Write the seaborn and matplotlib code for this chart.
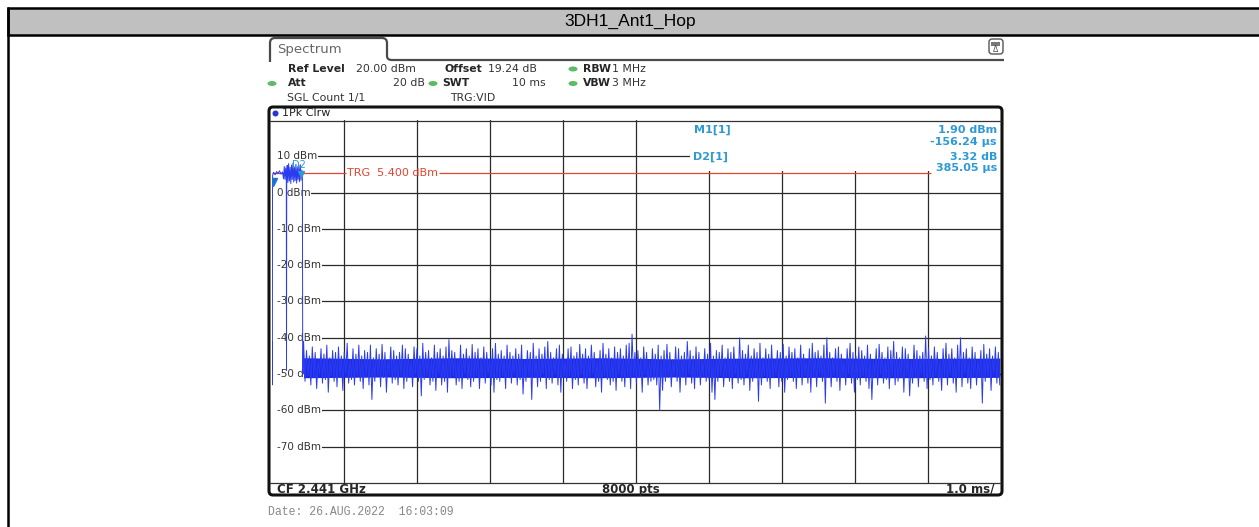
import numpy as np
import seaborn as sns
import matplotlib.pyplot as plt
from matplotlib.patches import Rectangle, FancyBboxPatch, Ellipse, PathPatch
from matplotlib.path import Path

W, H = 1259, 527

title = "3DH1_Ant1_Hop"
ref_levels = [10, 0, -10, -20, -30, -40, -50, -60, -70]
level_labels = ["10 dBm", "0 dBm", "-10 dBm", "-20 dBm", "-30 dBm",
                "-40 dBm", "-50 dBm", "-60 dBm", "-70 dBm"]
trg_level = 5.4
m1_time, m1_level = 0.014, 1.90
d2_delta_time, d2_delta_level = 0.385, 3.32

# start of sweep: hop burst (ms, dBm)
burst_t = [0.000, 0.004, 0.008, 0.012, 0.014, 0.016, 0.03, 0.05, 0.07, 0.09,
           0.11, 0.13, 0.15, 0.165, 0.175, 0.185, 0.195, 0.203, 0.206, 0.209,
           0.215, 0.225, 0.235, 0.245, 0.255, 0.265, 0.275, 0.285, 0.295, 0.305,
           0.315, 0.325, 0.335, 0.345, 0.355, 0.365, 0.375, 0.385, 0.395, 0.405,
           0.415, 0.424, 0.428, 0.432]
burst_db = [-46, -41, -53, -44, 3.5, 4.8, 5.6, 4.9, 5.8, 5.2,
            6.0, 5.1, 5.7, 3.8, 7.2, 3.6, 6.8, 4.0, -49, 4.5,
            7.5, 2.8, 8.0, 3.2, 7.0, 2.5, 7.6, 3.6, 8.2, 2.9,
            7.1, 3.3, 7.8, 2.6, 6.9, 3.5, 7.4, 3.0, 7.7, 3.4,
            6.2, 4.5, -45, -50]

# noise floor after the burst: peaks and troughs read along the sweep
noise_hi = [-41, -43.5, -45, -42.5, -44, -46, -43, -44.5, -42, -45.5, -43.5, -44,
            -42.5, -45, -44, -41.5, -46, -43, -44.5, -42, -45, -43.5, -44, -42,
            -45.5, -43, -44.5, -41.8, -44, -46, -42.5, -43.5, -45, -44, -42, -43,
            -44.5, -46, -42.5, -43, -45, -41.5, -44, -43.5, -45.5, -42, -44, -43,
            -45, -42.5, -40.5, -43.5, -44, -46, -42, -44.5, -43, -45, -41.8, -44,
            -43, -45.5, -42.5, -44, -46, -43, -41.5, -44.5, -43.5, -45, -42, -44,
            -45, -43, -44.5, -42, -46, -43.5, -44, -41.5, -45, -43, -44.5, -42.5,
            -41, -44, -45.5, -43, -42, -44.5, -46, -43, -42.5, -45, -44, -41.8,
            -44.5, -43, -45, -42, -44, -46, -43.5, -41.5, -44.5, -43, -45.5, -42.5,
            -44, -43, -45, -42, -41.5, -39, -44, -43.5, -45.5, -42.5, -44, -46,
            -43, -44.5, -42, -45, -43.5, -41.8, -44, -46, -42.5, -43, -45, -44,
            -41, -43.5, -45, -42.5, -44, -46, -43, -44.5, -41.5, -45, -43.5, -44,
            -42, -45.5, -43, -44, -42.5, -46, -40, -43.5, -44.5, -42, -45, -43,
            -44, -41.5, -45.5, -43, -44.5, -42, -46, -43.5, -44, -41.8, -45, -42.5,
            -44, -43, -45.5, -42, -44.5, -46, -43, -41.5, -44, -43.5, -45, -42,
            -40, -44, -45.5, -43, -42.5, -44.5, -46, -43, -41.5, -44, -45, -42.5,
            -43.5, -45, -42, -44.5, -46, -43, -41.8, -44, -45.5, -42.5, -43.5, -41,
            -44, -45.5, -42.5, -43, -44.5, -46, -42, -43.5, -45, -44, -39.5, -43,
            -45, -42.5, -44, -46, -43, -41.5, -44.5, -43, -45.5, -42, -40, -44,
            -43, -45.5, -42.5, -44, -46, -43.5, -41.8, -44.5, -43, -45, -42.5, -44]
noise_lo = [-52, -50.5, -53, -51, -54, -50, -52.5, -51.5, -55, -50.5, -52, -53.5,
            -51, -54.5, -50, -52.5, -51.5, -53, -50.5, -52, -54, -51, -53, -57,
            -52, -50.5, -53.5, -51, -55, -50, -52.5, -51.5, -53, -50.5, -54, -52,
            -51, -53.5, -50, -52, -56, -51.5, -50.5, -53, -52, -54.5, -50, -53,
            -52, -55, -51, -50.5, -53, -52, -54, -50, -51.5, -53.5, -52, -50.5,
            -54, -51, -52.5, -50, -53, -55, -51.5, -52, -50.5, -54, -51, -52.5,
            -50, -53, -51.5, -55.5, -52, -50.5, -57, -51, -53.5, -52, -50, -54,
            -51.5, -52.5, -50, -53, -55, -51, -52, -50.5, -54, -51.5, -53, -50,
            -52.5, -54, -51, -50, -53.5, -52, -55, -50.5, -51.5, -53, -52, -54.5,
            -50, -52, -53.5, -51, -54, -50.5, -52.5, -51, -55, -50, -53, -52,
            -51.5, -53, -60, -54.5, -52, -51, -53.5, -50.5, -52, -55, -51, -53,
            -50, -52.5, -54, -51, -53, -50.5, -52, -51.5, -55, -57, -52, -50.5,
            -53.5, -51, -52, -54, -50, -52.5, -51.5, -53, -50, -54.5, -52, -51,
            -57.5, -53, -50.5, -52, -54, -51, -50, -53.5, -52, -55, -51.5, -50.5,
            -52, -54, -51, -53, -50.5, -52.5, -55, -51, -53.5, -50, -52, -58,
            -51, -53.5, -50.5, -52, -54.5, -51, -53, -50, -52.5, -55, -51.5, -53,
            -50.5, -52, -54, -57, -51, -53, -50, -52.5, -51.5, -54, -50.5, -53,
            -52, -51, -55, -50.5, -56, -52.5, -51, -53.5, -50, -52, -54, -51.5,
            -53, -50.5, -52, -54.5, -51, -53, -50, -52.5, -55, -51, -53.5, -50,
            -52.5, -54, -51, -53, -50.5, -58, -52, -51, -54.5, -50, -52.5, -53]
# dense core of the noise band
core_t = [0.44, 1.5, 2.5, 3.5, 4.5, 5.5, 6.5, 7.5, 8.5, 9.99]
core_top = [-45.5, -45.8, -45.5, -45.7, -45.5, -45.8, -45.6, -45.5, -45.7, -45.6]
core_bottom = [-51.0, -50.8, -51.0, -50.9, -51.0, -50.8, -51.0, -50.9, -51.0, -50.9]

sweep_ms = 10
trace_blue = "#2a3cf0"
core_blue = "#1c2ae8"
marker_blue = "#2e9ad4"

sns.set_style("white")
plt.rcParams['font.family'] = ['DejaVu Sans']

fig = plt.figure(figsize=(W / 100, H / 100), dpi=100)
ax = fig.add_axes([271.5 / W, 1 - 483 / H, 729 / W, 363 / H], zorder=1)
fg = fig.add_axes([0, 0, 1, 1], zorder=3)
fg.set_xlim(0, W)
fg.set_ylim(H, 0)
fg.set_axis_off()
fg.patch.set_alpha(0)

# ---- trace area
ax.set_xlim(0, sweep_ms)
ax.set_ylim(-80, 20)
ax.set_axis_off()
for t in range(1, sweep_ms):
    ax.axvline(t, color="#2a2a2a", lw=0.9, zorder=1)
for lv, lab in zip(ref_levels, level_labels):
    # grid line starts under the label, so nothing shows left of it
    ax.hlines(lv, 0.12, sweep_ms, color="#2a2a2a", lw=0.9, zorder=1)
    ax.text(0.07, lv, lab, ha="left", va="center", fontsize=7.5, color="#333333",
            zorder=3, bbox=dict(facecolor="white", edgecolor="none", pad=0.8))
ax.add_patch(Rectangle((5.74, 5.9), 4.26, 14.1, facecolor="white", edgecolor="none", zorder=2))

ax.hlines(trg_level, 0, 1.02, color="#e2452f", lw=0.9, zorder=3)
ax.hlines(trg_level, 2.3, 9.04, color="#e2452f", lw=0.9, zorder=3)
ax.text(1.04, trg_level, "TRG  5.400 dBm", ha="left", va="center", fontsize=8,
        color="#e2452f", zorder=3)

noise_t = np.linspace(0.44, 9.99, 2 * len(noise_hi))
noise_db = np.ravel(np.column_stack([noise_hi, noise_lo]))
trace_t = np.concatenate([burst_t, noise_t])
trace_db = np.concatenate([burst_db, noise_db])
ax.fill_between(core_t, core_bottom, core_top, color=core_blue, lw=0, zorder=4)
sns.lineplot(x=trace_t, y=trace_db, ax=ax, color=trace_blue, lw=0.7,
             estimator=None, sort=False, zorder=4)

ax.plot([m1_time], [m1_level + 1.0], marker="v", ms=6, color="#1f6fd8",
        ls="none", zorder=5)
d2_t = m1_time + d2_delta_time
ax.plot([d2_t], [m1_level + d2_delta_level], marker="v", ms=4, color=marker_blue,
        ls="none", zorder=5)
ax.text(d2_t - 0.02, 7.6, "D2", fontsize=7, color=marker_blue, ha="center",
        va="center", zorder=5)

# ---- outer frame and title bar
fg.add_patch(Rectangle((8.5, 7.5), 1270, 27.5, facecolor="#c0c0c0",
                       edgecolor="black", lw=1.8, clip_on=True))
fg.plot([8.5, 8.5], [7.5, H], color="black", lw=1.8)
fg.text(630, 21.5, title, ha="center", va="center", fontsize=12.5,
        family="Liberation Sans", color="black")

# ---- Spectrum tab
tab = Path([(270, 62), (270, 43), (270, 38), (275, 38), (382, 38), (387, 38),
            (387, 43), (387, 56), (387, 60), (392, 60), (1004, 60)],
           [Path.MOVETO, Path.LINETO, Path.CURVE3, Path.CURVE3, Path.LINETO,
            Path.CURVE3, Path.CURVE3, Path.LINETO, Path.CURVE3, Path.CURVE3,
            Path.LINETO])
fg.add_patch(PathPatch(tab, facecolor="none", edgecolor="#4a4a4a", lw=1.6))
fg.text(277, 49, "Spectrum", fontsize=9.5, color="#666666", va="center")
fg.add_patch(FancyBboxPatch((989, 39), 14, 15, boxstyle="round,pad=0,rounding_size=3",
                            facecolor="white", edgecolor="#555555", lw=1.0))
fg.add_patch(Rectangle((991.5, 42), 9, 3.5, facecolor="#777777", edgecolor="none"))
fg.text(996, 50, "\u0394", fontsize=5.5, color="#555555", ha="center", va="center")

# ---- settings block
green = "#5dbb63"
rows = [69, 83.5, 98]
fs = 7.8
fg.text(288, rows[0], "Ref Level", fontsize=fs, weight="bold", va="center")
fg.text(356, rows[0], "20.00 dBm", fontsize=fs, va="center", color="#333333")
fg.text(445, rows[0], "Offset", fontsize=fs, weight="bold", va="center")
fg.text(488, rows[0], "19.24 dB", fontsize=fs, va="center", color="#333333")
fg.text(583, rows[0], "RBW", fontsize=fs, weight="bold", va="center")
fg.text(612, rows[0], "1 MHz", fontsize=fs, va="center", color="#333333")
fg.text(288, rows[1], "Att", fontsize=fs, weight="bold", va="center")
fg.text(425, rows[1], "20 dB", fontsize=fs, va="center", ha="right", color="#333333")
fg.text(442, rows[1], "SWT", fontsize=fs, weight="bold", va="center")
fg.text(546, rows[1], "10 ms", fontsize=fs, va="center", ha="right", color="#333333")
fg.text(583, rows[1], "VBW", fontsize=fs, weight="bold", va="center")
fg.text(612, rows[1], "3 MHz", fontsize=fs, va="center", color="#333333")
fg.text(287, rows[2], "SGL Count 1/1", fontsize=fs, va="center", color="#333333")
fg.text(450, rows[2], "TRG:VID", fontsize=fs, va="center", color="#333333")
for gx, gy in [(573, rows[0]), (272, rows[1]), (433, rows[1]), (573, rows[1])]:
    fg.add_patch(Ellipse((gx, gy), 9, 5, facecolor=green, edgecolor="none"))

# ---- plot box
fg.add_patch(FancyBboxPatch((269, 107), 733, 388, boxstyle="round,pad=0,rounding_size=4",
                            facecolor="none", edgecolor="#111111", lw=2.2))
fg.plot([270, 1001], [120.5, 120.5], color="#333333", lw=0.9)
fg.plot([270, 1001], [483, 483], color="#333333", lw=0.9)
fg.add_patch(Ellipse((275.5, 113.5), 6, 6, facecolor="#2238d0", edgecolor="none"))
fg.text(282, 113.5, "1Pk Clrw", fontsize=8, va="center", color="#222222")

mk = dict(fontsize=8, weight="bold", color=marker_blue, va="center")
fg.text(694, 130, "M1[1]", **mk)
fg.text(997, 130, "1.90 dBm", ha="right", **mk)
fg.text(997, 142, "-156.24 \u00b5s", ha="right", **mk)
fg.text(693, 156.5, "D2[1]", **mk)
fg.text(997, 156.5, "3.32 dB", ha="right", **mk)
fg.text(997, 168, "385.05 \u00b5s", ha="right", **mk)

fg.text(277, 489.5, "CF 2.441 GHz", fontsize=8.5, weight="bold", va="center")
fg.text(631, 489.5, "8000 pts", fontsize=8.5, weight="bold", va="center", ha="center")
fg.text(994, 489.5, "1.0 ms/", fontsize=8.5, weight="bold", va="center", ha="right")

fg.text(268, 512, "Date: 26.AUG.2022  16:03:09", fontsize=8.3, va="center",
        color="#888888", family="Liberation Mono")

fig.savefig("out.png", dpi=100)
